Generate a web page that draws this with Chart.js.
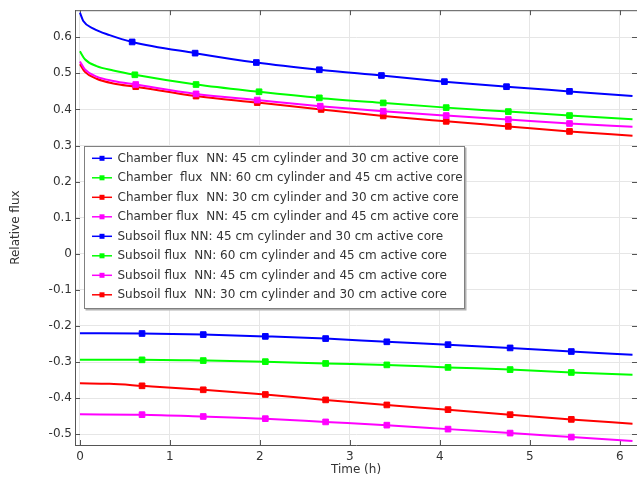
<!DOCTYPE html>
<html>
<head>
<meta charset="utf-8">
<script src="https://cdn.jsdelivr.net/npm/chart.js@4.4.1/dist/chart.umd.min.js"></script>
<style>
  html, body { margin: 0; padding: 0; background: #ffffff; }
  #wrap { width: 637px; height: 478px; }
</style>
</head>
<body>
<div id="wrap"><canvas id="c" width="637" height="478"></canvas></div>
<script>
// ---------- DATA ----------
const xTicks = [0, 1, 2, 3, 4, 5, 6];
const yTicks = [-0.5, -0.4, -0.3, -0.2, -0.1, 0, 0.1, 0.2, 0.3, 0.4, 0.5, 0.6];

const seriesLabels = [
  "Chamber flux  NN: 45 cm cylinder and 30 cm active core",
  "Chamber  flux  NN: 60 cm cylinder and 45 cm active core",
  "Chamber flux  NN: 30 cm cylinder and 30 cm active core",
  "Chamber flux  NN: 45 cm cylinder and 45 cm active core",
  "Subsoil flux NN: 45 cm cylinder and 30 cm active core",
  "Subsoil flux  NN: 60 cm cylinder and 45 cm active core",
  "Subsoil flux  NN: 45 cm cylinder and 45 cm active core",
  "Subsoil flux  NN: 30 cm cylinder and 30 cm active core"
];
const seriesColors = ["#0000ff", "#00ff00", "#ff0000", "#ff00ff", "#0000ff", "#00ff00", "#ff00ff", "#ff0000"];

// Chamber flux (time in h)
const chamberBlueT    = [0, 0.037, 0.15, 0.33, 0.58, 1.28, 1.96, 2.66, 3.35, 4.05, 4.74, 5.44, 6.14];
const chamberBlueV    = [0.668, 0.645, 0.624, 0.606, 0.587, 0.556, 0.530, 0.510, 0.494, 0.477, 0.463, 0.450, 0.437];
const chamberBlueM    = [0.58, 1.28, 1.96, 2.66, 3.35, 4.05, 4.74, 5.44];

const chamberGreenT   = [0, 0.055, 0.185, 0.37, 0.61, 1.29, 1.99, 2.66, 3.37, 4.07, 4.76, 5.44, 6.14];
const chamberGreenV   = [0.561, 0.539, 0.520, 0.508, 0.496, 0.469, 0.449, 0.432, 0.418, 0.405, 0.394, 0.383, 0.373];
const chamberGreenM   = [0.61, 1.29, 1.99, 2.66, 3.37, 4.07, 4.76, 5.44];

const chamberRedT     = [0, 0.055, 0.185, 0.37, 0.62, 1.29, 1.97, 2.68, 3.37, 4.07, 4.76, 5.44, 6.14];
const chamberRedV     = [0.525, 0.504, 0.485, 0.472, 0.463, 0.437, 0.419, 0.400, 0.382, 0.367, 0.353, 0.339, 0.327];
const chamberRedM     = [0.62, 1.29, 1.97, 2.68, 3.37, 4.07, 4.76, 5.44];

const chamberMagentaT = [0, 0.055, 0.185, 0.37, 0.62, 1.29, 1.97, 2.67, 3.37, 4.07, 4.76, 5.44, 6.14];
const chamberMagentaV = [0.533, 0.511, 0.491, 0.479, 0.469, 0.443, 0.426, 0.409, 0.395, 0.383, 0.372, 0.361, 0.352];
const chamberMagentaM = [0.62, 1.29, 1.97, 2.67, 3.37, 4.07, 4.76, 5.44];

// Subsoil flux
const subsoilBlueT    = [0, 0.69, 1.37, 2.06, 2.73, 3.41, 4.09, 4.78, 5.46, 6.14];
const subsoilBlueV    = [-0.220, -0.221, -0.224, -0.229, -0.235, -0.244, -0.252, -0.261, -0.271, -0.280];
const subsoilGreenT   = [0, 0.69, 1.37, 2.06, 2.73, 3.41, 4.09, 4.78, 5.46, 6.14];
const subsoilGreenV   = [-0.294, -0.294, -0.296, -0.299, -0.304, -0.308, -0.315, -0.321, -0.329, -0.335];
const subsoilMagentaT = [0, 0.69, 1.37, 2.06, 2.73, 3.41, 4.09, 4.78, 5.46, 6.14];
const subsoilMagentaV = [-0.445, -0.446, -0.451, -0.457, -0.466, -0.475, -0.486, -0.497, -0.508, -0.519];
const subsoilRedT     = [0, 0.33, 0.69, 1.37, 2.06, 2.73, 3.41, 4.09, 4.78, 5.46, 6.14];
const subsoilRedV     = [-0.359, -0.3605, -0.366, -0.377, -0.390, -0.405, -0.419, -0.432, -0.446, -0.459, -0.471];
const subsoilM        = [0.69, 1.37, 2.06, 2.73, 3.41, 4.09, 4.78, 5.46];

// ---------- BUILD ----------
const seriesT = [chamberBlueT, chamberGreenT, chamberRedT, chamberMagentaT, subsoilBlueT, subsoilGreenT, subsoilMagentaT, subsoilRedT];
const seriesV = [chamberBlueV, chamberGreenV, chamberRedV, chamberMagentaV, subsoilBlueV, subsoilGreenV, subsoilMagentaV, subsoilRedV];
const seriesM = [chamberBlueM, chamberGreenM, chamberRedM, chamberMagentaM, subsoilM, subsoilM, subsoilM, subsoilM];

const FONT = "DejaVu Sans";
const TEXT = "#333333";

const datasets = seriesLabels.map((label, i) => {
  const marks = new Set(seriesM[i]);
  return {
    label,
    data: seriesT[i].map((t, k) => ({ x: t, y: seriesV[i][k] })),
    borderColor: seriesColors[i],
    backgroundColor: seriesColors[i],
    borderWidth: 2,
    cubicInterpolationMode: 'monotone',
    pointStyle: 'rect',
    pointRadius: ctx => (ctx.raw && marks.has(ctx.raw.x)) ? 4 : 0,
    pointHoverRadius: 0,
    pointBorderWidth: 1,
    pointBorderColor: seriesColors[i],
    order: seriesLabels.length - i
  };
});

const framePlugin = {
  id: 'frame',
  beforeDatasetsDraw(chart) {
    const { ctx, chartArea: a, scales: { x, y } } = chart;
    ctx.save();
    ctx.strokeStyle = '#555555';
    ctx.lineWidth = 1;
    ctx.beginPath();
    // top frame line
    ctx.moveTo(a.left, a.top + 0.5); ctx.lineTo(a.right, a.top + 0.5);
    // inward ticks
    xTicks.forEach(v => {
      const px = Math.round(x.getPixelForValue(v)) + 0.5;
      ctx.moveTo(px, a.bottom); ctx.lineTo(px, a.bottom - 5);
      ctx.moveTo(px, a.top); ctx.lineTo(px, a.top + 5);
    });
    yTicks.forEach(v => {
      const py = Math.round(y.getPixelForValue(v)) + 0.5;
      ctx.moveTo(a.left, py); ctx.lineTo(a.left + 5, py);
      ctx.moveTo(a.right, py); ctx.lineTo(a.right - 5, py);
    });
    ctx.stroke();
    ctx.restore();
  }
};

const legendPlugin = {
  id: 'boxLegend',
  afterDraw(chart) {
    const { ctx } = chart;
    const bx = 84.5, by = 146.5, bw = 380, bh = 162;
    ctx.save();
    // shadow
    ctx.fillStyle = '#b0b0b0';
    ctx.fillRect(bx + 1, by + 1, bw + 1, bh + 1);
    ctx.fillStyle = '#ffffff';
    ctx.fillRect(bx, by, bw, bh);
    ctx.strokeStyle = '#808080';
    ctx.lineWidth = 1;
    ctx.strokeRect(bx, by, bw, bh);
    ctx.font = '12px "' + FONT + '"';
    ctx.textBaseline = 'middle';
    ctx.textAlign = 'left';
    seriesLabels.forEach((lab, i) => {
      const yy = 158.3 + i * 19.5;
      ctx.strokeStyle = seriesColors[i];
      ctx.lineWidth = 1.5;
      ctx.beginPath();
      ctx.moveTo(92, yy); ctx.lineTo(112, yy);
      ctx.stroke();
      ctx.fillStyle = seriesColors[i];
      ctx.fillRect(99.5, yy - 2.5, 5, 5);
      ctx.fillStyle = TEXT;
      ctx.fillText(lab, 117.5, yy + 0.5);
    });
    ctx.restore();
  }
};

new Chart(document.getElementById('c'), {
  type: 'line',
  data: { datasets },
  options: {
    responsive: false,
    animation: false,
    events: [],
    layout: { padding: { top: 10, right: 0, bottom: 0, left: 0 } },
    plugins: { legend: { display: false }, tooltip: { enabled: false } },
    scales: {
      x: {
        type: 'linear',
        min: -0.055,
        max: 6.19,
        afterBuildTicks: s => { s.ticks = xTicks.map(v => ({ value: v })); },
        afterFit: s => { s.height = 33; },
        ticks: {
          color: TEXT,
          font: { family: FONT, size: 12 },
          padding: 5,
          maxRotation: 0,
          callback: v => String(v)
        },
        grid: { color: '#e6e6e6', lineWidth: 1, drawTicks: false },
        border: { color: '#555555', width: 1 },
        title: {
          display: true, text: 'Time (h)', color: TEXT,
          font: { family: FONT, size: 12 },
          padding: { top: 0, bottom: 1 }
        }
      },
      y: {
        type: 'linear',
        min: -0.53,
        max: 0.675,
        afterBuildTicks: s => { s.ticks = yTicks.map(v => ({ value: v })); },
        afterFit: s => { s.width = 75; },
        ticks: {
          color: TEXT,
          font: { family: FONT, size: 12 },
          padding: 3,
          callback: v => String(Number(v.toFixed(1)))
        },
        grid: { color: '#e6e6e6', lineWidth: 1, drawTicks: false },
        border: { color: '#555555', width: 1 },
        title: {
          display: true, text: 'Relative flux', color: TEXT,
          font: { family: FONT, size: 12 },
          padding: { top: 9, bottom: 0 }
        }
      }
    }
  },
  plugins: [framePlugin, legendPlugin]
});
</script>
</body>
</html>
